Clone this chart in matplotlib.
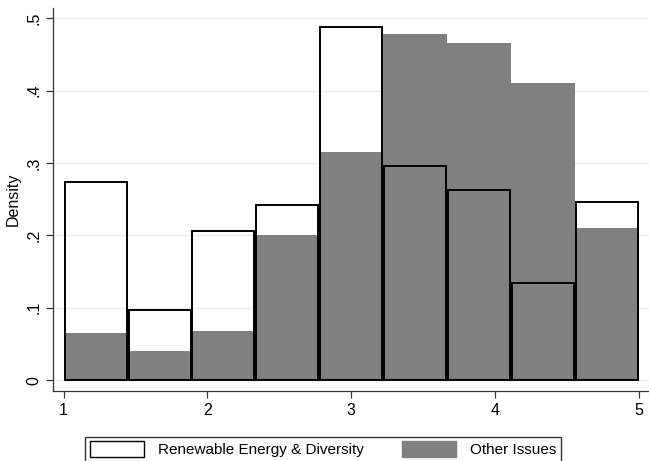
import matplotlib.pyplot as plt
import numpy as np
from matplotlib.patches import Patch

plt.rcParams['font.family'] = ['Liberation Sans', 'DejaVu Sans']

# histogram bins: 9 equal bins from 1 to 5
bin_lo = 1
bin_hi = 5
n_bins = 9

renewable = [0.273, 0.097, 0.206, 0.242, 0.488, 0.296, 0.262, 0.134, 0.246]
other = [0.065, 0.040, 0.068, 0.200, 0.315, 0.478, 0.466, 0.411, 0.210]

x_ticks = [1, 2, 3, 4, 5]
y_ticks = [0, 0.1, 0.2, 0.3, 0.4, 0.5]
y_labels = ["0", ".1", ".2", ".3", ".4", ".5"]

edges = np.linspace(bin_lo, bin_hi, n_bins + 1)
bw = edges[1] - edges[0]
centers = edges[:-1] + bw / 2

fig = plt.figure(figsize=(6.49, 4.61), dpi=100)
ax = fig.add_axes([53 / 649, 70 / 461, 596 / 649, 383 / 461])

ax.bar(centers, other, width=bw, color="#808080", linewidth=0, zorder=2)
ax.bar(centers, renewable, width=bw * 0.97, facecolor="none",
       edgecolor="black", linewidth=1.4, zorder=3)

ax.set_xlim(0.926, 5.07)
ax.set_ylim(-0.015, 0.514)
ax.set_xticks(x_ticks)
ax.set_yticks(y_ticks)
ax.set_yticklabels(y_labels, rotation=90, va="center")
ax.grid(axis="y", color="#e8eff0", linewidth=1, zorder=0)
ax.set_axisbelow(True)
for s in ["top", "right"]:
    ax.spines[s].set_visible(False)
for s in ["left", "bottom"]:
    ax.spines[s].set_linewidth(0.9)
    ax.spines[s].set_color("#333333")
ax.tick_params(labelsize=11.5, length=5, width=0.9, color="#333333")
ax.set_ylabel("Density", fontsize=11.5, labelpad=4)

handles = [Patch(facecolor="white", edgecolor="black", linewidth=1),
           Patch(facecolor="#808080", edgecolor="#808080")]
fig.legend(handles, ["Renewable Energy & Diversity", "Other Issues"],
           loc="center", bbox_to_anchor=(0.498, 0.025), ncol=2,
           fontsize=11, frameon=True, fancybox=False, edgecolor="black",
           handlelength=3.55, handleheight=1.2, columnspacing=2.5,
           handletextpad=0.9, borderpad=0.3, borderaxespad=0.3)

fig.savefig("out.png", dpi=100)
